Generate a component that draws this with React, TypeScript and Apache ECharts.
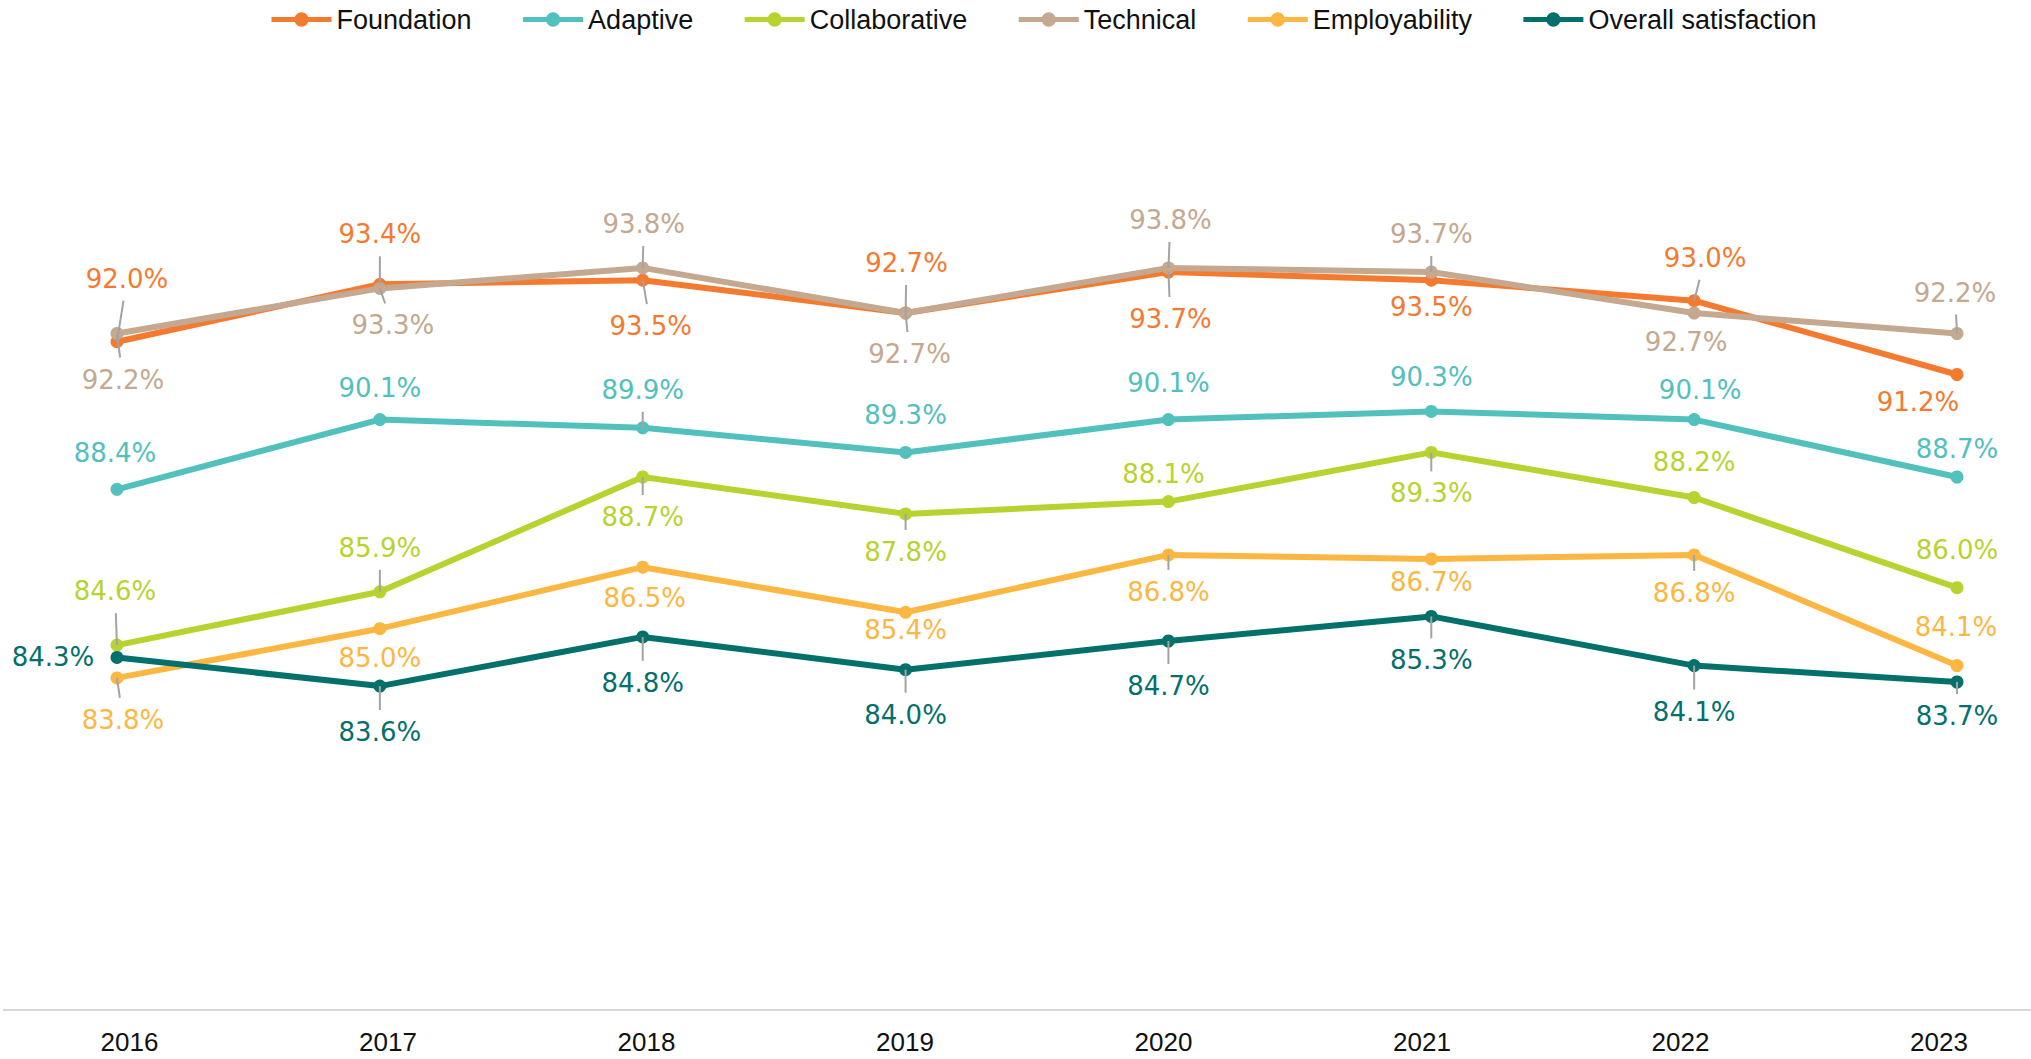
import React, { useEffect, useRef } from "react";
import * as echarts from "echarts";

// ---- data ----
const years = ["2016", "2017", "2018", "2019", "2020", "2021", "2022", "2023"];
const seriesNames = ["Foundation", "Adaptive", "Collaborative", "Technical", "Employability", "Overall satisfaction"];
const foundation = [92.0, 93.4, 93.5, 92.7, 93.7, 93.5, 93.0, 91.2];
const adaptive = [88.4, 90.1, 89.9, 89.3, 90.1, 90.3, 90.1, 88.7];
const collaborative = [84.6, 85.9, 88.7, 87.8, 88.1, 89.3, 88.2, 86.0];
const technical = [92.2, 93.3, 93.8, 92.7, 93.8, 93.7, 92.7, 92.2];
const employability = [83.8, 85.0, 86.5, 85.4, 86.8, 86.7, 86.8, 84.1];
const overall = [84.3, 83.6, 84.8, 84.0, 84.7, 85.3, 84.1, 83.7];

// ---- styling ----
const colors = ["#F47A30", "#52C0BC", "#B7D330", "#C4A890", "#FCB743", "#03706B"];

// label placement: [dx, dy, leader line]
const foundationLabels = [[10, -63, 1], [0, -50, 1], [8, 46, 1], [1, -50, 1], [2, 47, 1], [0, 27, 0], [11, -43, 1], [-39, 27, 0]];
const adaptiveLabels = [[-2, -36, 0], [0, -32, 0], [0, -38, 1], [0, -37, 0], [0, -37, 0], [0, -34, 0], [6, -30, 0], [0, -28, 0]];
const collaborativeLabels = [[-2, -54, 1], [0, -44, 1], [0, 40, 1], [0, 38, 1], [-5, -28, 0], [0, 41, 1], [0, -36, 0], [0, -38, 0]];
const technicalLabels = [[6, 46, 1], [13, 37, 1], [1, -44, 1], [4, 41, 1], [2, -48, 1], [0, -38, 1], [-8, 29, 0], [-2, -41, 1]];
const employabilityLabels = [[6, 42, 1], [0, 29, 0], [2, 31, 0], [0, 18, 0], [0, 37, 1], [0, 23, 0], [0, 38, 1], [-1, -39, 0]];
const overallLabels = [[-64, 0, 0], [0, 46, 1], [0, 46, 1], [0, 45, 1], [0, 45, 1], [0, 44, 1], [0, 46, 1], [0, 34, 1]];

const LEADER_GAP = 22;

function makeSeries(name: string, values: number[], color: string, place: number[][]) {
  return {
    name,
    type: "line",
    xAxisIndex: 0,
    yAxisIndex: 0,
    symbol: "circle",
    symbolSize: 13,
    showSymbol: true,
    lineStyle: { width: 6, color },
    itemStyle: { color },
    emphasis: { disabled: true },
    z: 2,
    label: {
      show: true,
      position: "inside",
      color,
      fontFamily: "DejaVu Sans",
      fontSize: 26,
      formatter: (p: any) => Number(p.value).toFixed(1) + "%",
    },
    data: values.map((v, i) => ({
      value: v,
      label: { offset: [place[i][0], place[i][1]] },
    })),
  };
}

function makeLeaders(values: number[], place: number[][]) {
  const rows: number[][] = [];
  values.forEach((v, i) => {
    if (place[i][2] === 1) rows.push([i, v, place[i][0], place[i][1]]);
  });
  return {
    type: "custom",
    xAxisIndex: 0,
    yAxisIndex: 0,
    silent: true,
    z: 3,
    renderItem: (params: any, api: any) => {
      const p = api.coord([api.value(0), api.value(1)]);
      const dx = api.value(2);
      const dy = api.value(3);
      const s = dy < 0 ? -1 : 1;
      const len = Math.abs(dy) - LEADER_GAP;
      const ex = p[0] + dx * (len / Math.abs(dy));
      const ey = p[1] + s * len;
      return {
        type: "line",
        shape: { x1: p[0], y1: p[1], x2: ex, y2: ey },
        style: { stroke: "#A3A3A3", lineWidth: 2 },
      };
    },
    data: rows,
  };
}

export default function App() {
  const ref = useRef<HTMLDivElement>(null);
  useEffect(() => {
    document.body.style.margin = "0";
    if (!ref.current) return;
    const chart = echarts.init(ref.current, undefined, { renderer: "svg" });
    const values = [foundation, adaptive, collaborative, technical, employability, overall];
    const places = [foundationLabels, adaptiveLabels, collaborativeLabels, technicalLabels, employabilityLabels, overallLabels];
    chart.setOption({
      animation: false,
      backgroundColor: "#ffffff",
      color: colors,
      legend: {
        top: 1,
        left: 264,
        itemWidth: 60,
        itemHeight: 18,
        itemGap: 49,
        data: seriesNames,
        lineStyle: { width: 5 },
        textStyle: { fontFamily: "Liberation Sans", fontSize: 27, color: "#111" },
      },
      grid: [
        { left: 117, right: 74, top: 13.7, bottom: 61.3 },
        { left: 129.5, right: 92, top: 1000, height: 10 },
      ],
      xAxis: [
        { type: "category", gridIndex: 0, data: years, boundaryGap: false, show: false },
        {
          type: "category",
          gridIndex: 1,
          data: years,
          boundaryGap: false,
          axisLine: { show: false },
          axisTick: { show: false },
          axisLabel: { fontFamily: "Liberation Sans", fontSize: 26, color: "#111", margin: 19 },
        },
      ],
      yAxis: [
        { type: "value", gridIndex: 0, min: 76, max: 100, show: false },
        { type: "value", gridIndex: 1, min: 0, max: 1, show: false },
      ],
      graphic: [
        {
          type: "line",
          silent: true,
          shape: { x1: 3, y1: 1010, x2: 2031, y2: 1010 },
          style: { stroke: "#D9D9D9", lineWidth: 2 },
        },
      ],
      series: [
        ...seriesNames.map((n, k) => makeSeries(n, values[k], colors[k], places[k])),
        ...seriesNames.map((n, k) => makeLeaders(values[k], places[k])),
      ],
    });
    return () => chart.dispose();
  }, []);
  return <div ref={ref} style={{ width: 2031, height: 1059 }} />;
}
